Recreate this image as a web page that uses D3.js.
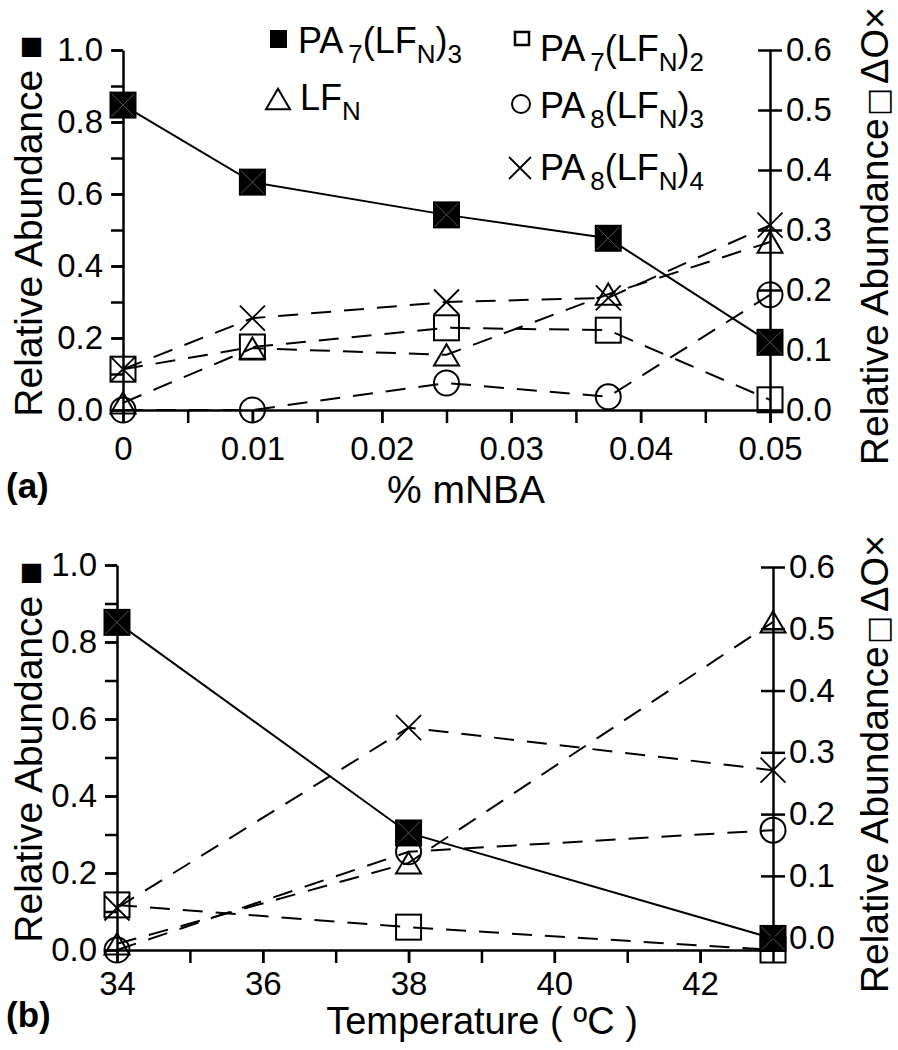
<!DOCTYPE html>
<html><head><meta charset="utf-8">
<script src="https://cdn.jsdelivr.net/npm/d3@7"></script>
<style>
body{margin:0;background:#fff}
text{font-family:"Liberation Sans",Arial,Helvetica,sans-serif;fill:#000}
</style>
</head><body>
<svg id="c" width="898" height="1050" xmlns="http://www.w3.org/2000/svg"></svg>
<script>
// ---------- data: panel (a) ----------
const mnba = [0, 0.01, 0.025, 0.0375, 0.05];
const a_PA7LFN3 = [0.847, 0.633, 0.542, 0.477, 0.188];   // left axis
const a_PA7LFN2 = [0.068, 0.105, 0.137, 0.133, 0.017];   // right axis
const a_LFN     = [0.012, 0.103, 0.092, 0.193, 0.280];   // right axis
const a_PA8LFN3 = [0.000, 0.000, 0.045, 0.022, 0.192];   // right axis
const a_PA8LFN4 = [0.068, 0.153, 0.180, 0.187, 0.308];   // right axis
const a_xMajor = [0, 0.01, 0.02, 0.03, 0.04, 0.05];
const a_xMinor = [0, 0.005, 0.01, 0.015, 0.02, 0.025, 0.03, 0.035, 0.04, 0.045, 0.05];
const a_xLabels = ["0", "0.01", "0.02", "0.03", "0.04", "0.05"];

// ---------- data: panel (b) ----------
const temps = [34, 38, 43];
const b_PA7LFN3 = [0.851, 0.304, 0.030];   // left axis
const b_PA7LFN2 = [0.053, 0.017, -0.020];  // right axis
const b_LFN     = [-0.010, 0.121, 0.511];  // right axis
const b_PA8LFN3 = [-0.020, 0.139, 0.174];  // right axis
const b_PA8LFN4 = [0.048, 0.340, 0.271];   // right axis
const b_xMajor = [34, 36, 38, 40, 42];
const b_xMinor = [34, 35, 36, 37, 38, 39, 40, 41, 42, 43];
const b_xLabels = ["34", "36", "38", "40", "42"];

// ---------- shared ticks ----------
const leftMajor = [0, 0.2, 0.4, 0.6, 0.8, 1.0];
const leftMinor = [0, 0.1, 0.2, 0.3, 0.4, 0.5, 0.6, 0.7, 0.8, 0.9, 1.0];
const rightTicks = [0, 0.1, 0.2, 0.3, 0.4, 0.5, 0.6];

const svg = d3.select("#c");
svg.append("rect").attr("width", 898).attr("height", 1050).attr("fill", "#fff");

const FONT = '"Liberation Sans",Arial,Helvetica,sans-serif';
const TICKFS = 33;

function styleAxis(g) {
  g.selectAll("path,line").attr("stroke", "#000").attr("stroke-width", 2.5);
  g.selectAll("text").attr("font-size", TICKFS).attr("font-family", FONT).attr("fill", "#000");
  g.attr("font-size", TICKFS).attr("font-family", FONT);
}

function marker(g, type, cx, cy, s) {
  if (type === "fsq") {
    g.append("rect").attr("x", cx - s/2).attr("y", cy - s/2).attr("width", s).attr("height", s)
      .attr("fill", "#000");
    g.append("path").attr("d", `M${cx-s/2+2},${cy-s/2+2}L${cx+s/2-2},${cy+s/2-2}M${cx+s/2-2},${cy-s/2+2}L${cx-s/2+2},${cy+s/2-2}`)
      .attr("stroke", "#555").attr("stroke-width", 1).attr("fill", "none");
  } else if (type === "osq") {
    g.append("rect").attr("x", cx - s/2).attr("y", cy - s/2).attr("width", s).attr("height", s)
      .attr("fill", "none").attr("stroke", "#000").attr("stroke-width", 2);
  } else if (type === "tri") {
    const h = s * 0.85;
    g.append("path").attr("d", `M${cx},${cy-h/2}L${cx+s/2},${cy+h/2}L${cx-s/2},${cy+h/2}Z`)
      .attr("fill", "none").attr("stroke", "#000").attr("stroke-width", 2);
  } else if (type === "circ") {
    g.append("circle").attr("cx", cx).attr("cy", cy).attr("r", s/2)
      .attr("fill", "none").attr("stroke", "#000").attr("stroke-width", 2);
  } else if (type === "x") {
    g.append("path").attr("d", `M${cx-s/2},${cy-s/2}L${cx+s/2},${cy+s/2}M${cx+s/2},${cy-s/2}L${cx-s/2},${cy+s/2}`)
      .attr("stroke", "#000").attr("stroke-width", 1.8).attr("fill", "none");
  }
}

function panel(cfg) {
  const g = svg.append("g");
  const x = d3.scaleLinear().domain(cfg.xDomain).range(cfg.xRange);
  const yL = d3.scaleLinear().domain([0, 1]).range(cfg.yLRange);
  const yR = d3.scaleLinear().domain(cfg.rDomain).range(cfg.yRRange);
  const base = cfg.yLRange[0];

  // x axis: minor ticks + labelled ticks
  const xa1 = g.append("g").attr("transform", `translate(0,${base})`)
    .call(d3.axisBottom(x).tickValues(cfg.xMinor).tickSize(13).tickSizeOuter(0).tickFormat(""));
  styleAxis(xa1);
  const xa2 = g.append("g").attr("transform", `translate(0,${base})`)
    .call(d3.axisBottom(x).tickValues(cfg.xMajor).tickSize(13).tickPadding(cfg.xPad)
      .tickFormat((d, i) => cfg.xLabels[i]));
  xa2.select(".domain").remove();
  styleAxis(xa2);

  // left axis
  const la1 = g.append("g").attr("transform", `translate(${cfg.xRange[0]},0)`)
    .call(d3.axisLeft(yL).tickValues(leftMinor).tickSize(12).tickSizeOuter(0).tickFormat(""));
  styleAxis(la1);
  const la2 = g.append("g").attr("transform", `translate(${cfg.xRange[0]},0)`)
    .call(d3.axisLeft(yL).tickValues(leftMajor).tickSize(12).tickPadding(8).tickFormat(d3.format(".1f")));
  la2.select(".domain").remove();
  styleAxis(la2);

  // right axis (crossing ticks)
  const ra = g.append("g").attr("transform", `translate(${cfg.xRange[1]},0)`)
    .call(d3.axisRight(yR).tickValues(rightTicks).tickSize(12).tickSizeOuter(0).tickPadding(4)
      .tickFormat(d3.format(".1f")));
  ra.selectAll(".tick line").attr("x1", -12).attr("x2", 12);
  styleAxis(ra);

  // lines
  const lineL = d3.line().x((d, i) => x(cfg.xs[i])).y(d => yL(d));
  const lineR = d3.line().x((d, i) => x(cfg.xs[i])).y(d => yR(d));
  const dashed = [cfg.PA7LFN2, cfg.LFN, cfg.PA8LFN3, cfg.PA8LFN4];
  dashed.forEach(s => {
    g.append("path").attr("d", lineR(s)).attr("fill", "none").attr("stroke", "#000")
      .attr("stroke-width", 2).attr("stroke-dasharray", "20,13");
  });
  g.append("path").attr("d", lineL(cfg.PA7LFN3)).attr("fill", "none").attr("stroke", "#000")
    .attr("stroke-width", 2);

  // markers
  const mg = g.append("g");
  cfg.PA7LFN3.forEach((v, i) => marker(mg, "fsq", x(cfg.xs[i]), yL(v), 27));
  cfg.PA7LFN2.forEach((v, i) => marker(mg, "osq", x(cfg.xs[i]), yR(v), 25));
  cfg.LFN.forEach((v, i) => marker(mg, "tri", x(cfg.xs[i]), yR(v), 25));
  cfg.PA8LFN3.forEach((v, i) => marker(mg, "circ", x(cfg.xs[i]), yR(v), 25));
  cfg.PA8LFN4.forEach((v, i) => marker(mg, "x", x(cfg.xs[i]), yR(v), 25));

  // titles
  g.append("text").attr("x", cfg.xTitleX).attr("y", cfg.xTitleY)
    .attr("text-anchor", "middle").attr("font-size", cfg.xTitleFs).text(cfg.xTitle);

  g.append("text").attr("x", 6).attr("y", cfg.tagY).attr("font-size", 35)
    .attr("font-weight", "bold").text(cfg.tag);

  const lt = g.append("text")
    .attr("transform", `translate(42,${cfg.lTitleY}) rotate(-90)`)
    .attr("text-anchor", "middle").attr("font-size", 39);
  lt.append("tspan").text("Relative Abundance ");
  lt.append("tspan").attr("font-family", "DejaVu Sans").attr("font-size", 25).attr("dy", -4).text("■");

  const rt = g.append("text")
    .attr("transform", `translate(888,${cfg.rTitleY}) rotate(-90)`)
    .attr("text-anchor", "middle").attr("font-size", 39);
  rt.append("tspan").text("Relative Abundance");
  rt.append("tspan").attr("font-family", "DejaVu Sans").attr("font-weight", "bold")
    .attr("font-size", 30).attr("dx", 2).text("□");
  rt.append("tspan").attr("font-size", 38).attr("dx", 4).text("ΔO×");
}

panel({
  xs: mnba, xDomain: [0, 0.05], xRange: [123, 770],
  yLRange: [410, 50], rDomain: [0, 0.6], yRRange: [410, 50],
  xMajor: a_xMajor, xMinor: a_xMinor, xLabels: a_xLabels, xPad: 14,
  PA7LFN3: a_PA7LFN3, PA7LFN2: a_PA7LFN2, LFN: a_LFN, PA8LFN3: a_PA8LFN3, PA8LFN4: a_PA8LFN4,
  xTitle: "% mNBA", xTitleX: 466, xTitleY: 503, xTitleFs: 39, tag: "(a)", tagY: 498,
  lTitleY: 226, rTitleY: 236
});

panel({
  xs: temps, xDomain: [34, 43], xRange: [117, 773],
  yLRange: [950, 565], rDomain: [-0.02, 0.6], yRRange: [950, 567],
  xMajor: b_xMajor, xMinor: b_xMinor, xLabels: b_xLabels, xPad: 9,
  PA7LFN3: b_PA7LFN3, PA7LFN2: b_PA7LFN2, LFN: b_LFN, PA8LFN3: b_PA8LFN3, PA8LFN4: b_PA8LFN4,
  xTitle: "Temperature ( ºC )", xTitleX: 482, xTitleY: 1034, xTitleFs: 38, tag: "(b)", tagY: 1027,
  lTitleY: 752, rTitleY: 764
});

// ---------- legend (panel a) ----------
const leg = svg.append("g");
function legText(x, y, parts) {
  const t = leg.append("text").attr("x", x).attr("y", y).attr("font-size", 36);
  let shifted = false;
  parts.forEach(p => {
    const ts = t.append("tspan").text(p.t);
    if (p.sub) {
      ts.attr("font-size", 26).attr("dy", shifted ? 0 : 10);
      if (p.dx) ts.attr("dx", p.dx);
      shifted = true;
    } else {
      if (shifted) ts.attr("dy", -10);
      shifted = false;
    }
  });
}
leg.append("rect").attr("x", 270).attr("y", 30).attr("width", 17).attr("height", 18).attr("fill", "#000");
legText(298, 53, [{t: "PA"}, {t: "7", sub: true, dx: 5}, {t: "(LF"}, {t: "N", sub: true}, {t: ")"}, {t: "3", sub: true}]);
marker(leg, "tri", 278, 99, 24);
legText(300, 110, [{t: "LF"}, {t: "N", sub: true}]);

leg.append("rect").attr("x", 515).attr("y", 32).attr("width", 14).attr("height", 13)
  .attr("fill", "none").attr("stroke", "#000").attr("stroke-width", 2.5);
legText(540, 61, [{t: "PA"}, {t: "7", sub: true, dx: 5}, {t: "(LF"}, {t: "N", sub: true}, {t: ")"}, {t: "2", sub: true}]);
marker(leg, "circ", 521, 104, 18);
legText(540, 118, [{t: "PA"}, {t: "8", sub: true, dx: 5}, {t: "(LF"}, {t: "N", sub: true}, {t: ")"}, {t: "3", sub: true}]);
marker(leg, "x", 520, 168, 22);
legText(540, 180, [{t: "PA"}, {t: "8", sub: true, dx: 5}, {t: "(LF"}, {t: "N", sub: true}, {t: ")"}, {t: "4", sub: true}]);
</script>
</body></html>
